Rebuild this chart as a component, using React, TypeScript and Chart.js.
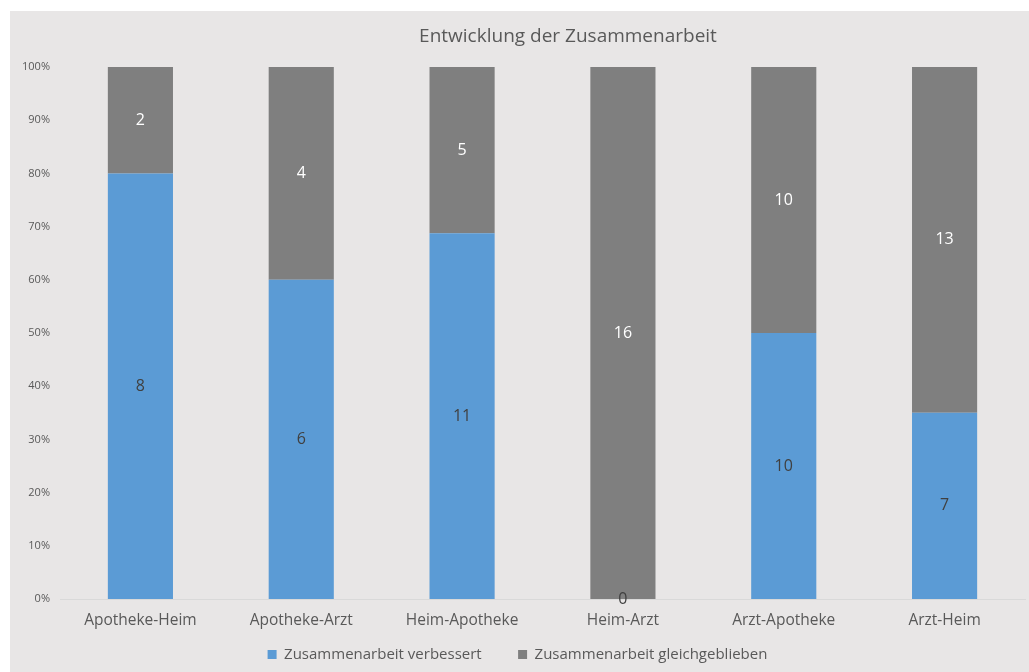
import React, { useEffect, useRef } from "react";
import { Chart, registerables } from "chart.js";

Chart.register(...registerables);

const categories = ["Apotheke-Heim", "Apotheke-Arzt", "Heim-Apotheke", "Heim-Arzt", "Arzt-Apotheke", "Arzt-Heim"];
const improved = [8, 6, 11, 0, 10, 7];
const unchanged = [2, 4, 5, 16, 10, 13];
const seriesNames = ["Zusammenarbeit verbessert", "Zusammenarbeit gleichgeblieben"];
const titleText = "Entwicklung der Zusammenarbeit";
const yTickStep = 10;
const yMax = 100;

const FONT = "'Open Sans', 'Noto Sans', sans-serif";
const TEXT = "#595959";
const BLUE = "#5B9BD5";
const GRAY = "#7F7F7F";
const BG = "#E8E6E6";

const counts = [improved, unchanged];
const totals = improved.map((v, i) => v + unchanged[i]);
const pct = (arr: number[]) => arr.map((v, i) => (totals[i] ? (v / totals[i]) * 100 : 0));

const labelPlugin = {
  id: "segLabels",
  afterDatasetsDraw(chart: any) {
    const ctx = chart.ctx;
    ctx.save();
    ctx.font = `16px ${FONT}`;
    ctx.textAlign = "center";
    ctx.textBaseline = "middle";
    chart.data.datasets.forEach((ds: any, di: number) => {
      const meta = chart.getDatasetMeta(di);
      meta.data.forEach((bar: any, i: number) => {
        const cy = (bar.y + bar.base) / 2;
        ctx.fillStyle = di === 0 || counts[di][i] === 0 ? "#404040" : "#FFFFFF";
        ctx.fillText(String(counts[di][i]), bar.x, cy);
      });
    });
    ctx.restore();
  },
};

const titlePlugin = {
  id: "offsetTitle",
  afterDraw(chart: any) {
    const ctx = chart.ctx;
    ctx.save();
    ctx.font = `19px ${FONT}`;
    ctx.fillStyle = TEXT;
    ctx.textAlign = "center";
    ctx.textBaseline = "middle";
    ctx.fillText(titleText, 558, 26);
    ctx.restore();
  },
};

export default function App() {
  const ref = useRef<HTMLCanvasElement | null>(null);
  useEffect(() => {
    if (!ref.current) return;
    const chart = new Chart(ref.current, {
      type: "bar",
      data: {
        labels: categories,
        datasets: [
          { label: seriesNames[0], data: pct(improved), backgroundColor: BLUE, categoryPercentage: 1, barPercentage: 0.405 },
          { label: seriesNames[1], data: pct(unchanged), backgroundColor: GRAY, categoryPercentage: 1, barPercentage: 0.405 },
        ],
      },
      options: {
        animation: false,
        responsive: false,
        maintainAspectRatio: false,
        layout: { padding: { top: 56, left: 0, right: 4, bottom: 0 } },
        plugins: {
          title: { display: false },
          tooltip: { enabled: false },
          legend: {
            position: "bottom",
            labels: {
              font: { family: FONT, size: 15 },
              color: TEXT,
              boxWidth: 9,
              boxHeight: 9,
              padding: 10,
              generateLabels: (c: any) => {
                const items = (Chart as any).defaults.plugins.legend.labels.generateLabels(c);
                items.forEach((it: any, i: number) => {
                  if (i < items.length - 1) it.text = it.text + "\u2002\u2002\u2002 ";
                });
                return items;
              },
            },
          },
        },
        scales: {
          x: {
            stacked: true,
            grid: { display: false, drawTicks: false },
            border: { display: true, color: "#D9D9D9" },
            ticks: { font: { family: FONT, size: 15.5 }, color: TEXT, padding: 12 },
            afterFit: (axis: any) => { axis.height = 38; },
          },
          y: {
            stacked: true,
            min: 0,
            max: yMax,
            grid: { display: false, drawTicks: false },
            border: { display: false },
            ticks: {
              stepSize: yTickStep,
              font: { family: FONT, size: 11 },
              color: TEXT,
              padding: 10,
              callback: (v: any) => `${v}%`,
            },
            afterFit: (axis: any) => { axis.width = 50; },
          },
        },
      },
      plugins: [labelPlugin, titlePlugin],
    });
    return () => chart.destroy();
  }, []);
  return (
    <div style={{ position: "absolute", left: 10, top: 11, width: 1019, height: 661, background: BG }}>
      <canvas ref={ref} width={1019} height={661} style={{ display: "block", width: 1019, height: 661 }} />
    </div>
  );
}
